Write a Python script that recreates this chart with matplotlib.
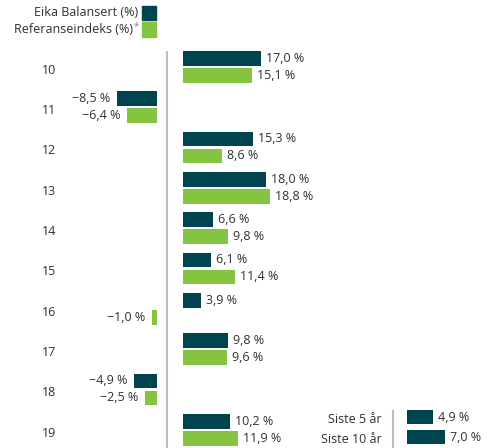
import matplotlib
matplotlib.use("Agg")
import matplotlib.pyplot as plt
from matplotlib.patches import Rectangle

# data
years = ["10", "11", "12", "13", "14", "15", "16", "17", "18", "19"]
eika = [17.0, -8.5, 15.3, 18.0, 6.6, 6.1, 3.9, 9.8, -4.9, 10.2]
referanse = [15.1, -6.4, 8.6, 18.8, 9.8, 11.4, -1.0, 9.6, -2.5, 11.9]
summary_labels = ["Siste 5 år", "Siste 10 år"]
summary_values = [4.9, 7.0]

DARK = "#00444f"
GREEN = "#84c441"
LINE = "#c2bcb6"
TXT = "#303030"
FS = 9

W, H = 497, 448
plt.rcParams["font.family"] = ["Open Sans", "DejaVu Sans"]
fig = plt.figure(figsize=(W / 100, H / 100), dpi=100)


def fmt(v):
    s = f"{abs(v):.1f}".replace(".", ",") + " %"
    return ("\u2212" + s) if v < 0 else s


# main chart, scale: px per percent, zero (axis line) at px x0
px_per = 4.62
x0 = 167.3
row_px = 40.33
row0 = 66.8
ax = fig.add_axes([0, 0, 1, 1])
ax.set_xlim(-x0 / px_per, (W - x0) / px_per)
ax.set_ylim((H - row0) / row_px, -row0 / row_px)
ax.axis("off")

gap_pos = (182.7 - x0) / px_per
gap_neg = (x0 - 156.7) / px_per
off = 8.5 / row_px
bh = 14.7 / row_px

ax.plot([0, 0], [(51 - row0) / row_px, (H - row0) / row_px], color=LINE, lw=1.5,
        solid_capstyle="butt")

for k, yr in enumerate(years):
    ax.text((48.7 - x0) / px_per, k + 3.5 / row_px, yr, ha="center", va="center",
            fontsize=FS, color=TXT)
    for v, dy, col in ((eika[k], -off, DARK), (referanse[k], off, GREEN)):
        if v >= 0:
            ax.barh(k + dy, v, left=gap_pos, height=bh, color=col)
            ax.text(gap_pos + v + 5 / px_per, k + dy, fmt(v), ha="left", va="center",
                    fontsize=FS, color=TXT)
        else:
            ax.barh(k + dy, v, left=-gap_neg, height=bh, color=col)
            ax.text(-gap_neg + v - 7 / px_per, k + dy, fmt(v), ha="right", va="center",
                    fontsize=FS, color=TXT)

# legend, drawn by hand in figure pixels
def fx(px):
    return px / W


def fy(py):
    return 1 - py / H


fig.text(fx(137.7), fy(13), "Eika Balansert (%)", ha="right", va="center",
         fontsize=FS, color=TXT)
fig.text(fx(133.5), fy(29.5), "Referanseindeks (%)", ha="right", va="center",
         fontsize=FS, color=TXT)
fig.text(fx(133.8), fy(27), "*", ha="left", va="center", fontsize=7, color="#888888")
for top, col in ((5.7, DARK), (22.3, GREEN)):
    fig.patches.append(Rectangle((fx(141.7), fy(top + 14.3)), fx(14), 14.3 / H,
                                 transform=fig.transFigure, color=col))

# summary panel bottom right
s_px = 5.4
s_x0 = 393.3
s_row = 20
s_row0 = 17.2
ax2 = fig.add_axes([300 / W, 0, 197 / W, 48 / H])
ax2.set_xlim((300 - s_x0) / s_px, (497 - s_x0) / s_px)
ax2.set_ylim((48 - s_row0) / s_row, -s_row0 / s_row)
ax2.axis("off")
ax2.patch.set_alpha(0)
s_gap = (406.7 - s_x0) / s_px
ax2.plot([0, 0], [(410 - 400 - s_row0) / s_row, (48 - s_row0) / s_row], color=LINE,
         lw=1.5, solid_capstyle="butt")
ax2.barh(range(len(summary_values)), summary_values, left=s_gap, height=14.3 / s_row,
         color=DARK)
for k, (lab, v) in enumerate(zip(summary_labels, summary_values)):
    ax2.text((381.7 - s_x0) / s_px, k + 2 / s_row, lab, ha="right", va="center",
             fontsize=FS, color=TXT)
    ax2.text(s_gap + v + 5 / s_px, k, fmt(v), ha="left", va="center",
             fontsize=FS, color=TXT)

fig.savefig("out.png", dpi=100)
